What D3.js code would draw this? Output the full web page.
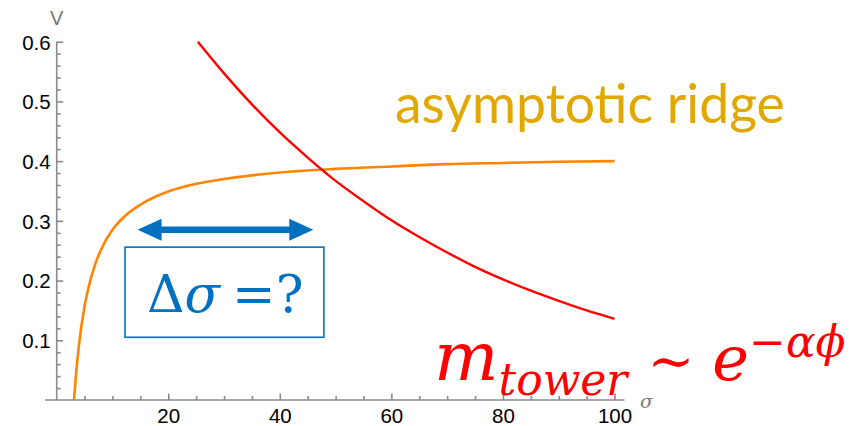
<!DOCTYPE html>
<html>
<head>
<meta charset="utf-8">
<script src="https://cdn.jsdelivr.net/npm/d3@7"></script>
<style>
  body { margin: 0; background: #fff; }
  svg { display: block; }
</style>
</head>
<body>
<div id="graf"></div>
<script>
// datos
ridgeSigma = [3.1, 3.5, 4, 5, 6, 7, 8, 10, 12, 15, 20, 25, 30, 40, 50, 60, 70, 80, 90, 100]
ridgeV     = [0, 0.047, 0.093, 0.157, 0.199, 0.230, 0.253, 0.285, 0.306, 0.327, 0.349, 0.362, 0.370, 0.381, 0.387, 0.391, 0.395, 0.397, 0.399, 0.400]

towerSigma = [25.3, 30, 35, 40, 45, 50, 55, 60, 65, 70, 75, 80, 85, 90, 95, 100]
towerV     = [0.600, 0.547, 0.495, 0.448, 0.406, 0.367, 0.333, 0.301, 0.273, 0.247, 0.223, 0.202, 0.183, 0.166, 0.150, 0.136]

xTicks = [20, 40, 60, 80, 100]
yTicks = [0.1, 0.2, 0.3, 0.4, 0.5, 0.6]

ancho_total = 857
alto_total = 426

svg = d3.select('#graf').append('svg')
        .attr('width', ancho_total)
        .attr('height', alto_total)

// -- Escaladores --
x = d3.scaleLinear().domain([0, 100]).range([56.7, 614.5])
y = d3.scaleLinear().domain([0, 0.6]).range([400, 41.7])

axisColor = '#8a8a8a'

// minor ticks
xMinor = d3.range(5, 101, 5).filter(v => v % 20 != 0)
yMinor = d3.range(1, 30).map(i => +(i * 0.02).toFixed(2)).filter(v => Math.round(v * 100) % 10 != 0)

xAx = svg.append('g').attr('transform', `translate(0, ${y(0)})`)
xAx.call(d3.axisBottom(x).tickValues(xTicks).tickSize(-6.5).tickPadding(8).tickFormat(d3.format('d')))
xAx.append('g').call(d3.axisBottom(x).tickValues(xMinor).tickSize(-4).tickFormat(''))
xAx.selectAll('.domain').remove()
xAx.append('line').attr('x1', x(-2.1)).attr('x2', x(101.8))

yAx = svg.append('g').attr('transform', `translate(${x(0)}, 0)`)
yAx.call(d3.axisLeft(y).tickValues(yTicks).tickSize(-6.5).tickPadding(6).tickFormat(d3.format('.1f')))
yAx.append('g').call(d3.axisLeft(y).tickValues(yMinor).tickSize(-4).tickFormat(''))
yAx.selectAll('.domain').remove()
yAx.append('line').attr('y1', y(0)).attr('y2', y(0.6))

svg.selectAll('.tick line').attr('stroke', axisColor).attr('stroke-width', 1.3)
svg.selectAll('g > line').attr('stroke', axisColor).attr('stroke-width', 1.6)
svg.selectAll('.tick text')
   .attr('fill', '#000')
   .style('font-family', 'Liberation Sans, Arial, sans-serif')
   .style('font-size', '20.5px')
xAx.selectAll('.tick text').attr('dy', '0.71em')
yAx.selectAll('.tick text').attr('dy', '0.36em')

// etiquetas de ejes
svg.append('text').attr('x', x(0)).attr('y', 25).attr('text-anchor', 'middle')
   .attr('fill', '#777').style('font-family', 'Liberation Sans, Arial, sans-serif')
   .style('font-size', '20px').text('V')
svg.append('text').attr('x', 640).attr('y', 408)
   .attr('fill', '#777').style('font-family', 'DejaVu Serif, serif').style('font-style', 'italic')
   .style('font-size', '19px').text('σ')

// curvas
linea = d3.line().x(d => x(d[0])).y(d => y(d[1])).curve(d3.curveMonotoneX)

svg.append('path')
   .datum(ridgeSigma.map((s, i) => [s, ridgeV[i]]))
   .attr('d', linea)
   .attr('fill', 'none').attr('stroke', '#ff8500').attr('stroke-width', 2.6)

svg.append('path')
   .datum(towerSigma.map((s, i) => [s, towerV[i]]))
   .attr('d', linea)
   .attr('fill', 'none').attr('stroke', '#ff0000').attr('stroke-width', 2.4)

// anotaciones
blue = '#0070c0'

// flecha doble
ax1 = x(14.5), ax2 = x(46), ay = y(0.285)
hl = 24, hw = 11, sw = 3.2
svg.append('path')
   .attr('d', `M${ax1},${ay} L${ax1 + hl},${ay - hw} L${ax1 + hl},${ay - sw} L${ax2 - hl},${ay - sw} L${ax2 - hl},${ay - hw} L${ax2},${ay} L${ax2 - hl},${ay + hw} L${ax2 - hl},${ay + sw} L${ax1 + hl},${ay + sw} L${ax1 + hl},${ay + hw} Z`)
   .attr('fill', blue)

// caja
svg.append('rect')
   .attr('x', x(12.25)).attr('y', y(0.256))
   .attr('width', x(47.9) - x(12.25)).attr('height', y(0.105) - y(0.256))
   .attr('fill', 'none').attr('stroke', blue).attr('stroke-width', 1.6)

dt = svg.append('text').attr('x', 147).attr('y', 312)
        .attr('fill', blue).style('font-family', 'DejaVu Serif, serif').style('font-size', '52px')
dt.append('tspan').text('Δ')
dt.append('tspan').style('font-style', 'italic').text('σ')
dt.append('tspan').attr('dx', 12).text('=?')

ar = svg.append('text').attr('x', 395).attr('y', 123)
   .attr('fill', '#e0a800').style('font-family', 'Lato, sans-serif').style('font-size', '48px')
   .text('asymptotic ridge')
// ajustar ancho a la referencia
w = ar.node().getComputedTextLength()
ar.style('font-size', `${48 * 390 / w}px`)

mt = svg.append('text').attr('x', 434).attr('y', 380)
        .attr('fill', '#ff0000').style('font-family', 'DejaVu Serif, serif').style('font-style', 'italic')
mt.append('tspan').style('font-size', '68px').text('m')
mt.append('tspan').attr('dy', 15).style('font-size', '44px').text('tower')
mt.append('tspan').attr('dy', -15).attr('dx', 20).style('font-style', 'normal').style('font-size', '56px').text('~')
mt.append('tspan').attr('dx', 18).style('font-size', '62px').text('e')
mt.append('tspan').attr('dy', -23).style('font-size', '44px').text('−αϕ')
</script>
</body>
</html>
